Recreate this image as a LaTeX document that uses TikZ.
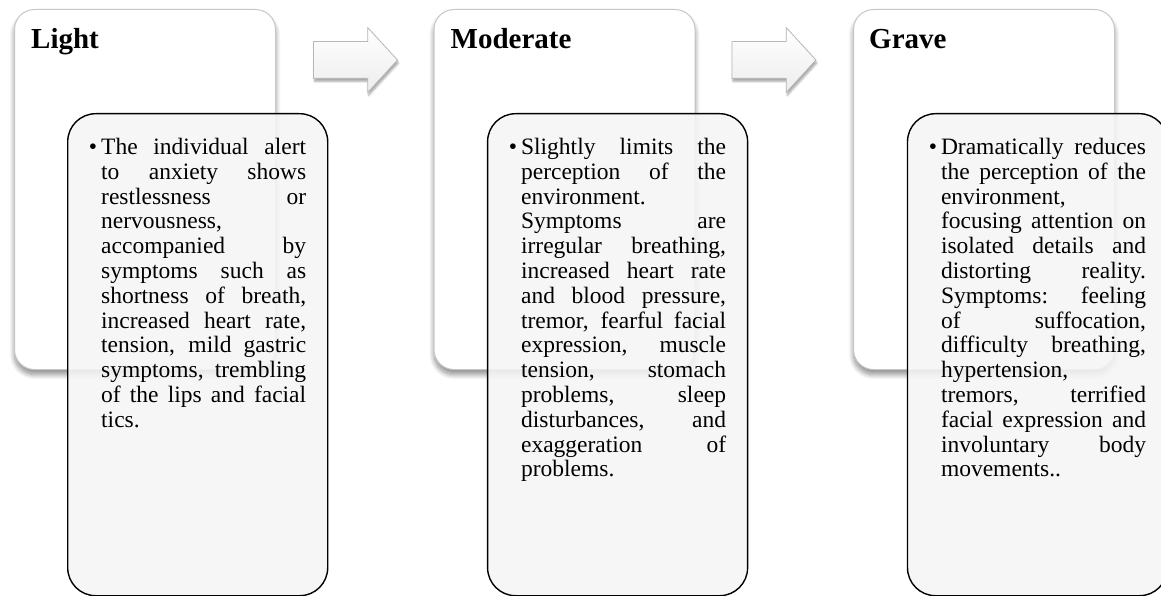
\documentclass[tikz,border=0pt]{standalone}
\usepackage{fontspec}
\setmainfont{Liberation Serif}
\usetikzlibrary{positioning,shapes.arrows,shadows.blur}

\begin{document}
\begin{tikzpicture}[x=1pt,y=1pt,
    zadni/.style={draw=black!22, fill=white, line width=1pt, rounded corners=20pt,
        minimum width=261pt, minimum height=360pt, inner sep=0pt, anchor=north west,
        blur shadow={shadow xshift=0pt, shadow yshift=-5pt, shadow blur radius=5pt,
            shadow blur steps=10, shadow opacity=45}},
    predni/.style={draw=black, fill=black!4, fill opacity=0.88, line width=1.4pt,
        rounded corners=28pt, minimum width=260pt, minimum height=482pt,
        inner sep=0pt, anchor=north west},
    nadpis/.style={anchor=base west, inner sep=0pt,
        font=\fontsize{29}{30}\selectfont\bfseries},
    popis/.style={anchor=north west, inner sep=0pt, text width=205pt, align=justify,
        font=\fontsize{23.5}{24.8}\selectfont},
    sipka/.style={single arrow, single arrow tip angle=95, single arrow head extend=14pt,
        minimum height=84pt, inner xsep=0pt, inner ysep=18pt,
        draw=black!28, line width=0.8pt, top color=white, bottom color=black!7,
        blur shadow={shadow xshift=1pt, shadow yshift=-3pt, shadow blur radius=2pt,
            shadow opacity=35}}
]
    \useasboundingbox (0,0) rectangle (1161,-596);

    % karty vzadu
    \node[zadni] (light) at (14,-9) {};
    \node[zadni, right=157.5pt of light] (moderate) {};
    \node[zadni, right=157.5pt of moderate] (grave) {};

    \node[nadpis] (lighthead) at ([shift={(17pt,-40pt)}]light.north west) {Light};
    \node[nadpis] (moderatehead) at ([shift={(17pt,-40pt)}]moderate.north west) {Moderate};
    \node[nadpis] (gravehead) at ([shift={(16pt,-40pt)}]grave.north west) {Grave};

    % šipky
    \node[sipka] (lm) at (347,-60) {};
    \node[sipka] (mg) at (765.5,-60) {};

    % karty vpředu
    \node[predni] (lightbox) at (67,-113) {};
    \node[predni, right=158.5pt of lightbox] (moderatebox) {};
    \node[predni, right=158.5pt of moderatebox] (gravebox) {};

    % texty
    \node[popis] (lighttext) at ([shift={(34pt,-25pt)}]lightbox.north west)
        {\llap{\textbullet\hspace{4pt}}The individual alert\linebreak
        to anxiety shows\linebreak restlessness or\linebreak nervousness,\linebreak
        accompanied by\linebreak symptoms such as\linebreak shortness of breath,\linebreak
        increased heart rate,\linebreak tension, mild gastric\linebreak
        symptoms, trembling\linebreak of the lips and facial\linebreak tics.};
    \node[popis] (moderatetext) at ([shift={(34pt,-25pt)}]moderatebox.north west)
        {\llap{\textbullet\hspace{4pt}}Slightly limits the\linebreak
        perception of the\linebreak environment.\linebreak Symptoms are\linebreak
        irregular breathing,\linebreak increased heart rate\linebreak
        and blood pressure,\linebreak tremor, fearful facial\linebreak
        expression, muscle\linebreak tension, stomach\linebreak problems, sleep\linebreak
        disturbances, and\linebreak exaggeration of\linebreak problems.};
    \node[popis] (gravetext) at ([shift={(34pt,-25pt)}]gravebox.north west)
        {\llap{\textbullet\hspace{4pt}}Dramatically reduces\linebreak
        the perception of the\linebreak environment,\linebreak
        focusing attention on\linebreak isolated details and\linebreak
        distorting reality.\linebreak Symptoms: feeling\linebreak of suffocation,\linebreak
        difficulty breathing,\linebreak hypertension,\linebreak tremors, terrified\linebreak
        facial expression and\linebreak involuntary body\linebreak movements..};
\end{tikzpicture}
\end{document}
